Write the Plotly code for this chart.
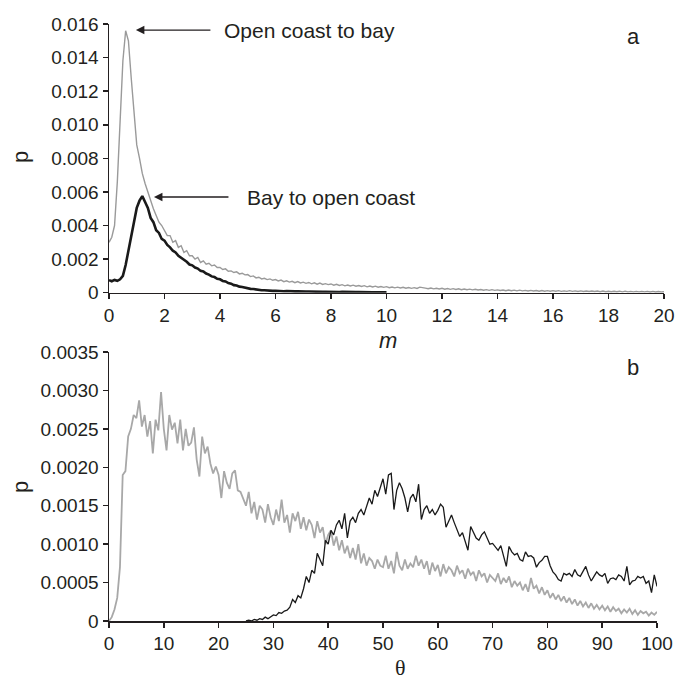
import plotly.graph_objects as go

# ---------------- Panel a : m ----------------
M_START = 0.0
M_STEP = 0.1

# Open coast to bay (grey), m = 0 .. 20
GREY_A = [
    0.0030, 0.0033, 0.0040, 0.0066, 0.0102, 0.0138, 0.0156, 0.0150, 0.0128, 0.0106,
    0.0088, 0.0080, 0.0071, 0.0065, 0.0060, 0.0054, 0.0050, 0.0046, 0.0042, 0.0040,
    0.0037, 0.0034, 0.0034, 0.0030, 0.0031, 0.0027, 0.0028, 0.0024, 0.0025, 0.0022,
    0.0022, 0.0020, 0.0021, 0.0018, 0.0019, 0.0017, 0.00175, 0.0016, 0.00165, 0.0015,
    0.00150, 0.00138, 0.00142, 0.00128, 0.00130, 0.00120, 0.00124, 0.00112, 0.00116, 0.00106,
    0.00108, 0.00096, 0.00100, 0.00088, 0.00092, 0.00082, 0.00086, 0.00078, 0.00082, 0.00074,
    0.00078, 0.00070, 0.00075, 0.00066, 0.00071, 0.00063, 0.00068, 0.00060, 0.00066, 0.00058,
    0.00063, 0.00056, 0.00061, 0.00053, 0.00059, 0.00051, 0.00057, 0.00049, 0.00054, 0.00048,
    0.00052, 0.00045, 0.00050, 0.00043, 0.00048, 0.00041, 0.00046, 0.00040, 0.00045, 0.00039,
    0.00043, 0.00037, 0.00042, 0.00035, 0.00040, 0.00034, 0.00039, 0.00033, 0.00037, 0.00032,
    0.00036, 0.00030, 0.00034, 0.00029, 0.00033, 0.00028, 0.00032, 0.00027, 0.00031, 0.00026,
    0.00030, 0.00025, 0.00033, 0.00028, 0.00027, 0.00024, 0.00028, 0.00023, 0.00026, 0.00022,
    0.00026, 0.00021, 0.00025, 0.00020, 0.00024, 0.00019, 0.00023, 0.00018, 0.00022, 0.00018,
    0.00021, 0.00017, 0.00020, 0.00016, 0.00019, 0.00015, 0.00018, 0.00014, 0.00018, 0.00014,
    0.00017, 0.00013, 0.00016, 0.00012, 0.00016, 0.00012, 0.00015, 0.00011, 0.00015, 0.00011,
    0.00014, 0.00010, 0.00014, 0.00010, 0.00013, 0.00009, 0.00013, 0.00009, 0.00012, 0.00009,
    0.00012, 0.00009, 0.00012, 0.00008, 0.00011, 0.00008, 0.00012, 0.00008, 0.00011, 0.00007,
    0.00011, 0.00007, 0.00010, 0.00007, 0.00010, 0.00007, 0.00010, 0.00006, 0.00010, 0.00006,
    0.00009, 0.00006, 0.00009, 0.00006, 0.00009, 0.00005, 0.00009, 0.00005, 0.00008, 0.00005,
    0.00008, 0.00005, 0.00008, 0.00005, 0.00008, 0.00004, 0.00008, 0.00004, 0.00007, 0.00004,
    0.00006,
]

# Bay to open coast (black), m = 0 .. 10
BLACK_A = [
    0.00075, 0.00068, 0.00076, 0.00071, 0.00080, 0.00100, 0.00165, 0.00255, 0.00345, 0.00430,
    0.00505, 0.00548, 0.00575, 0.00540, 0.00505, 0.00445, 0.00420, 0.00372, 0.00356, 0.00320,
    0.00310, 0.00284, 0.00270, 0.00250, 0.00240, 0.00220, 0.00210, 0.00196, 0.00184, 0.00168,
    0.00163, 0.00150, 0.00144, 0.00130, 0.00126, 0.00114, 0.00108, 0.00097, 0.00093, 0.00083,
    0.00080, 0.00070, 0.00067, 0.00057, 0.00054, 0.00045, 0.00043, 0.00036, 0.00034, 0.00029,
    0.00027, 0.00023, 0.00022, 0.00019, 0.00018, 0.00015, 0.00015, 0.00013, 0.00013, 0.00011,
    0.00012, 0.00010, 0.00011, 0.00009, 0.00010, 0.00008, 0.00009, 0.00008, 0.00009, 0.00007,
    0.00008, 0.00007, 0.00007, 0.00006, 0.00007, 0.00006, 0.00006, 0.00005, 0.00006, 0.00005,
    0.00006, 0.00005, 0.00005, 0.00004, 0.00005, 0.00004, 0.00005, 0.00004, 0.00004, 0.00004,
    0.00004, 0.00003, 0.00004, 0.00003, 0.00004, 0.00003, 0.00003, 0.00003, 0.00003, 0.00003,
    0.00003,
]

# ---------------- Panel b : theta ----------------
T_STEP = 0.5
GREY_B_START = 0.0
GREY_B = [
    0.0, 0.00005, 0.00015, 0.00030, 0.00070, 0.00190, 0.00195, 0.00240, 0.00250, 0.00268,
    0.00264, 0.00287, 0.00253, 0.00268, 0.00240, 0.00260, 0.00218, 0.00262, 0.00248, 0.00298,
    0.00250, 0.00222, 0.00268, 0.00249, 0.00258, 0.00231, 0.00262, 0.00222, 0.00250, 0.00228,
    0.00232, 0.00252, 0.00210, 0.00188, 0.00240, 0.00218, 0.00227, 0.00205, 0.00192, 0.00201,
    0.00190, 0.00160, 0.00195, 0.00180, 0.00172, 0.00192, 0.00196, 0.00170, 0.00168, 0.00160,
    0.00150, 0.00168, 0.00140, 0.00155, 0.00132, 0.00150, 0.00145, 0.00128, 0.00152, 0.00135,
    0.00125, 0.00145, 0.00130, 0.00158, 0.00128, 0.00138, 0.00115, 0.00140, 0.00130, 0.00142,
    0.00120, 0.00135, 0.00118, 0.00132, 0.00125, 0.00108, 0.00130, 0.00115, 0.00122, 0.00100,
    0.00112, 0.00118, 0.00098, 0.00110, 0.00092, 0.00105, 0.00088, 0.00098, 0.00082, 0.00095,
    0.00080, 0.00100, 0.00075, 0.00088, 0.00072, 0.00082, 0.00078, 0.00068, 0.00080, 0.00072,
    0.00070, 0.00085, 0.00068, 0.00078, 0.00062, 0.00090, 0.00072, 0.00066, 0.00080, 0.00068,
    0.00075, 0.00070, 0.00085, 0.00072, 0.00080, 0.00068, 0.00078, 0.00060, 0.00076, 0.00065,
    0.00073, 0.00058, 0.00074, 0.00062, 0.00070, 0.00066, 0.00058, 0.00072, 0.00062, 0.00066,
    0.00055, 0.00068, 0.00060, 0.00064, 0.00052, 0.00066, 0.00058, 0.00062, 0.00050, 0.00060,
    0.00056, 0.00052, 0.00062, 0.00048, 0.00056, 0.00050, 0.00058, 0.00044, 0.00052, 0.00046,
    0.00050, 0.00040, 0.00048, 0.00038, 0.00056, 0.00042, 0.00046, 0.00036, 0.00044, 0.00034,
    0.00040, 0.00030, 0.00036, 0.00028, 0.00034, 0.00026, 0.00032, 0.00024, 0.00030, 0.00022,
    0.00028, 0.00020, 0.00026, 0.00019, 0.00024, 0.00017, 0.00023, 0.00016, 0.00021, 0.00015,
    0.00020, 0.00014, 0.00019, 0.00012, 0.00018, 0.00013, 0.00016, 0.00010, 0.00015, 0.00011,
    0.00016, 0.00009, 0.00014, 0.00008, 0.00013, 0.00010, 0.00012, 0.00007, 0.00011, 0.00008,
    0.00012,
]

BLACK_B_START = 25.0
BLACK_B = [
    0.0, 0.00001, 0.0, 0.00002, 0.00001, 0.00003, 0.00002, 0.00005, 0.00003, 0.00006,
    0.00008, 0.00007, 0.00011, 0.00010, 0.00013, 0.00014, 0.00018, 0.00028, 0.00024, 0.00033,
    0.00030, 0.00042, 0.00058, 0.00050, 0.00066, 0.00062, 0.00088, 0.00080, 0.00072, 0.00105,
    0.00100, 0.00118, 0.00112, 0.00125, 0.00131, 0.00120, 0.00140, 0.00108, 0.00130, 0.00135,
    0.00128, 0.00140, 0.00145, 0.00138, 0.00150, 0.00160, 0.00152, 0.00170, 0.00162, 0.00175,
    0.00185, 0.00165, 0.00190, 0.00192, 0.00145, 0.00170, 0.00180, 0.00172, 0.00160, 0.00142,
    0.00160, 0.00165, 0.00155, 0.00178, 0.00132, 0.00145, 0.00150, 0.00140, 0.00145, 0.00138,
    0.00144, 0.00152, 0.00148, 0.00122, 0.00130, 0.00138, 0.00128, 0.00120, 0.00110, 0.00115,
    0.00102, 0.00092, 0.00123, 0.00115, 0.00108, 0.00105, 0.00112, 0.00116, 0.00108, 0.00100,
    0.00101, 0.00096, 0.00092, 0.00098, 0.00085, 0.00071, 0.00097, 0.00090, 0.00086, 0.00088,
    0.00080, 0.00078, 0.00090, 0.00084, 0.00085, 0.00082, 0.00070, 0.00076, 0.00079, 0.00084,
    0.00084, 0.00072, 0.00064, 0.00060, 0.00054, 0.00052, 0.00062, 0.00060, 0.00062, 0.00058,
    0.00067, 0.00060, 0.00058, 0.00064, 0.00071, 0.00060, 0.00052, 0.00058, 0.00064, 0.00060,
    0.00058, 0.00062, 0.00049, 0.00055, 0.00056, 0.00054, 0.00060, 0.00058, 0.00052, 0.00071,
    0.00047, 0.00052, 0.00053, 0.00058, 0.00056, 0.00058, 0.00049, 0.00052, 0.00037, 0.00060,
    0.00045,
]

# Tick labels
XA_TICKS = [0, 2, 4, 6, 8, 10, 12, 14, 16, 18, 20]
YA_TICKS = [0, 0.002, 0.004, 0.006, 0.008, 0.010, 0.012, 0.014, 0.016]
YA_TEXT = ["0", "0.002", "0.004", "0.006", "0.008", "0.010", "0.012", "0.014", "0.016"]
XB_TICKS = [0, 10, 20, 30, 40, 50, 60, 70, 80, 90, 100]
YB_TICKS = [0, 0.0005, 0.0010, 0.0015, 0.0020, 0.0025, 0.0030, 0.0035]
YB_TEXT = ["0", "0.0005", "0.0010", "0.0015", "0.0020", "0.0025", "0.0030", "0.0035"]


def grid(start, step, n):
    return [round(start + step * i, 4) for i in range(n)]


W, H = 676, 679
FONT = "Liberation Sans, Arial, Helvetica, sans-serif"
TXT = "#231f20"

fig = go.Figure()
fig.add_trace(go.Scatter(x=grid(M_START, M_STEP, len(GREY_A)), y=GREY_A, mode="lines",
                         line=dict(color="#9a9a9a", width=1.4), xaxis="x", yaxis="y",
                         name="Open coast to bay"))
fig.add_trace(go.Scatter(x=grid(M_START, M_STEP, len(BLACK_A)), y=BLACK_A, mode="lines",
                         line=dict(color="#1a1a1a", width=2.6), xaxis="x", yaxis="y",
                         name="Bay to open coast"))
fig.add_trace(go.Scatter(x=grid(GREY_B_START, T_STEP, len(GREY_B)), y=GREY_B, mode="lines",
                         line=dict(color="#a8a8a8", width=1.8), xaxis="x2", yaxis="y2",
                         name="Open coast to bay"))
fig.add_trace(go.Scatter(x=grid(BLACK_B_START, T_STEP, len(BLACK_B)), y=BLACK_B, mode="lines",
                         line=dict(color="#1a1a1a", width=1.3), xaxis="x2", yaxis="y2",
                         name="Bay to open coast"))

axis_common = dict(showline=True, linecolor="#231f20", linewidth=1.5, ticks="outside",
                   ticklen=5, tickwidth=1.5, tickcolor="#231f20", showgrid=False,
                   zeroline=False, automargin=False,
                   tickfont=dict(family=FONT, size=19, color=TXT))

fig.update_layout(
    width=W, height=H, margin=dict(l=0, r=0, t=0, b=0),
    paper_bgcolor="white", plot_bgcolor="white", showlegend=False,
    xaxis=dict(domain=[109 / W, 664 / W], range=[0, 20], anchor="y",
               tickmode="array", tickvals=XA_TICKS, ticktext=[str(v) for v in XA_TICKS],
               **axis_common),
    yaxis=dict(domain=[1 - 292.7 / H, 1 - 24 / H], range=[0, 0.016], anchor="x",
               tickmode="array", tickvals=YA_TICKS, ticktext=YA_TEXT, **axis_common),
    xaxis2=dict(domain=[109 / W, 657 / W], range=[0, 100], anchor="y2",
                tickmode="array", tickvals=XB_TICKS, ticktext=[str(v) for v in XB_TICKS],
                **axis_common),
    yaxis2=dict(domain=[1 - 621 / H, 1 - 352 / H], range=[0, 0.0035], anchor="x2",
                tickmode="array", tickvals=YB_TICKS, ticktext=YB_TEXT, **axis_common),
)

ann_font = dict(family=FONT, size=21, color=TXT)
annotations = [
    # arrows
    dict(x=0.97, y=0.01564, xref="x", yref="y", text="", showarrow=True,
         ax=76, ay=0, axref="pixel", ayref="pixel", arrowhead=2, arrowsize=1.3,
         arrowwidth=1.3, arrowcolor=TXT, standoff=0),
    dict(x=1.62, y=0.0057, xref="x", yref="y", text="", showarrow=True,
         ax=76, ay=0, axref="pixel", ayref="pixel", arrowhead=2, arrowsize=1.3,
         arrowwidth=1.3, arrowcolor=TXT, standoff=0),
    dict(x=222 / W, y=1 - 31 / H, xref="paper", yref="paper", text="Open coast to bay",
         showarrow=False, xanchor="left", yanchor="middle", font=ann_font),
    dict(x=245 / W, y=1 - 197 / H, xref="paper", yref="paper", text="Bay to open coast",
         showarrow=False, xanchor="left", yanchor="middle", font=ann_font),
    # panel letters
    dict(x=633 / W, y=1 - 36 / H, xref="paper", yref="paper", text="a", showarrow=False,
         xanchor="center", yanchor="middle", font=dict(family=FONT, size=22, color=TXT)),
    dict(x=633 / W, y=1 - 367 / H, xref="paper", yref="paper", text="b", showarrow=False,
         xanchor="center", yanchor="middle", font=dict(family=FONT, size=22, color=TXT)),
    # axis titles
    dict(x=20 / W, y=1 - 157 / H, xref="paper", yref="paper", text="p", showarrow=False,
         textangle=-90, xanchor="center", yanchor="middle",
         font=dict(family=FONT, size=22, color=TXT)),
    dict(x=20 / W, y=1 - 487 / H, xref="paper", yref="paper", text="p", showarrow=False,
         textangle=-90, xanchor="center", yanchor="middle",
         font=dict(family=FONT, size=22, color=TXT)),
    dict(x=388 / W, y=1 - 340 / H, xref="paper", yref="paper", text="<i>m</i>",
         showarrow=False, xanchor="center", yanchor="middle",
         font=dict(family=FONT, size=22, color=TXT)),
    dict(x=400 / W, y=1 - 667 / H, xref="paper", yref="paper", text="θ",
         showarrow=False, xanchor="center", yanchor="middle",
         font=dict(family="Liberation Serif, Times New Roman, serif", size=22, color=TXT)),
]
fig.update_layout(annotations=annotations)

fig.write_html("out.html", config={"displayModeBar": False, "staticPlot": True})

# remove the browser's default body margin so the figure sits at the window origin
with open("out.html", "r", encoding="utf-8") as f:
    page = f.read()
page = page.replace("<head>", "<head><style>html,body{margin:0;padding:0;overflow:hidden;}</style>", 1)
with open("out.html", "w", encoding="utf-8") as f:
    f.write(page)
